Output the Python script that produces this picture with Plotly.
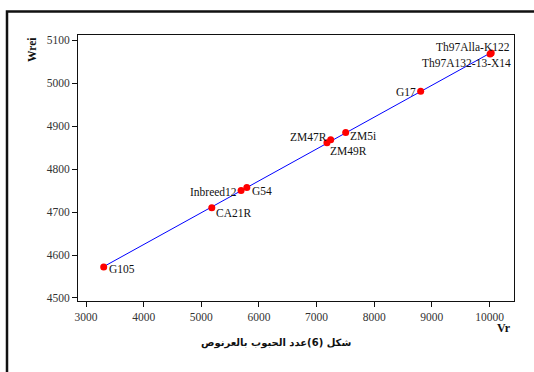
import numpy as np
import plotly.graph_objects as go

# Genotype names and their (Vr, Wrei) values
genotypes = ["G105", "CA21R", "Inbreed12", "G54", "ZM47R", "ZM49R",
             "ZM5i", "G17", "Th97Alla-K122", "Th97A132-13-X14"]
vr = [3307, 5182, 5690, 5790, 7245, 7180, 7505, 8806, 10010, 10030]
wrei = [4572, 4710, 4750, 4757, 4868, 4861, 4885, 4981, 5068, 5070]

x_ticks = [3000, 4000, 5000, 6000, 7000, 8000, 9000, 10000]
x_tick_labels = ["3000", "4000", "5000", "6000", "7000", "8000", "9000", "10000"]
y_ticks = [4500, 4600, 4700, 4800, 4900, 5000, 5100]
y_tick_labels = ["4500", "4600", "4700", "4800", "4900", "5000", "5100"]

# label placement: (xanchor, xshift, yshift)
label_pos = {
    "G105": ("left", 3.5, -2),
    "CA21R": ("left", 2, -5.5),
    "Inbreed12": ("right", -2.5, -1),
    "G54": ("left", 3.5, -3.5),
    "ZM47R": ("right", -2, 2.5),
    "ZM49R": ("left", 1, -8.5),
    "ZM5i": ("left", 2.5, -3),
    "G17": ("right", -2.5, -0.5),
    "Th97Alla-K122": ("right", 22, 6.5),
    "Th97A132-13-X14": ("right", 22, -10),
}

W, H = 534, 372
ML, MR, MT, MB = 78, 20, 35, 71
PW, PH = W - ML - MR, H - MT - MB


def px(xp):
    return (xp - ML) / PW


def py(yp):
    return (H - MB - yp) / PH


serif = "Liberation Serif, Times New Roman, serif"

# least-squares regression line of Wrei on Vr
slope, intercept = np.polyfit(vr, wrei, 1)
x_line = np.array([min(vr), max(vr)])
y_line = slope * x_line + intercept

fig = go.Figure()
fig.add_trace(go.Scatter(x=x_line, y=y_line, mode="lines",
                         line=dict(color="#0000ff", width=1),
                         hoverinfo="skip", showlegend=False))
fig.add_trace(go.Scatter(x=vr, y=wrei, mode="markers",
                         marker=dict(color="#ff0000", size=7),
                         showlegend=False))

annotations = []
for name, xv, yv in zip(genotypes, vr, wrei):
    anchor, xs, ys = label_pos[name]
    annotations.append(dict(x=xv, y=yv, xref="x", yref="y", text=name,
                            showarrow=False, xanchor=anchor, yanchor="middle",
                            xshift=xs, yshift=ys,
                            font=dict(family=serif, size=11.5, color="#111")))

annotations += [
    dict(x=px(32), y=py(50), xref="paper", yref="paper", text="<b>Wrei</b>",
         textangle=-90, showarrow=False, xanchor="center", yanchor="middle",
         font=dict(family=serif, size=11.5, color="#111")),
    dict(x=px(504), y=py(328), xref="paper", yref="paper", text="<b>Vr</b>",
         showarrow=False, xanchor="center", yanchor="middle",
         font=dict(family=serif, size=12, color="#111")),
    dict(x=px(276), y=py(343), xref="paper", yref="paper",
         text="<b>شكل (6)عدد الحبوب بالعرنوص</b>",
         showarrow=False, xanchor="center", yanchor="middle",
         font=dict(family="DejaVu Sans, sans-serif", size=10, color="#111")),
]

axis_common = dict(showgrid=False, zeroline=False, showline=True,
                   linecolor="#111", linewidth=1, mirror=True,
                   ticks="outside", ticklen=5, tickcolor="#111",
                   tickfont=dict(family=serif, size=11.5, color="#333"))

fig.update_layout(
    width=W, height=H,
    margin=dict(l=ML, r=MR, t=MT, b=MB),
    paper_bgcolor="white", plot_bgcolor="white",
    xaxis=dict(range=[2861, 10425], tickvals=x_ticks, ticktext=x_tick_labels,
               **axis_common),
    yaxis=dict(range=[4493, 5112], tickvals=y_ticks, ticktext=y_tick_labels,
               **axis_common),
    annotations=annotations,
    shapes=[dict(type="rect", xref="paper", yref="paper",
                 x0=px(7), x1=px(548), y0=py(11.5), y1=py(390),
                 line=dict(color="#111", width=2.5))],
)

fig.write_html("out.html")
